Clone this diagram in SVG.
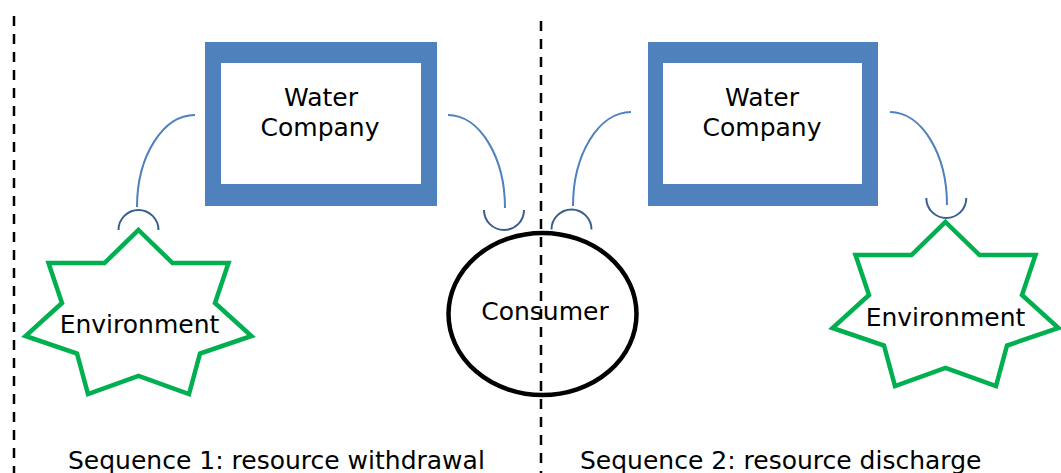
<svg xmlns="http://www.w3.org/2000/svg" width="1061" height="473" viewBox="0 0 1061 473">
<style>
text{font-family:"DejaVu Sans","Verdana",sans-serif;font-size:25px;fill:#000}
.c{text-anchor:middle}
.box{fill:#4F81BD}
.inner{fill:#fff}
.star{fill:#fff;stroke:#00B050;stroke-width:4.5;stroke-linejoin:miter}
.link{fill:none;stroke:#4F81BD;stroke-width:2}
.sock{fill:none;stroke:#3A5F8E;stroke-width:2}
.div{stroke:#000;stroke-width:2.5;stroke-dasharray:10 8}
</style>
<defs>
<polygon id="starShape" points="138.5,230 172.5,263 228.5,263 215,303 251.5,336 200,353.5 189,394 138.5,376 88,394 77,353.5 25.5,336 62,303 48.5,263 104.5,263"/>
</defs>
<rect width="1061" height="473" fill="#fff"/>
<g id="connectors">
<path class="link" d="M195,115 C163,115 137,156 137,207"/>
<path class="sock" d="M118.5,230 A20,20 0 0 1 158.5,230"/>
<path class="link" d="M448,115 C479.5,115 505,157 505,208"/>
<path class="sock" d="M484,210 A20,20 0 0 0 524,210"/>
<path class="link" d="M631,112 C599,112 573,154 573,206"/>
<path class="sock" d="M551.5,229.5 A20,20 0 0 1 591.5,229.5"/>
<path class="link" d="M890,112 C921.5,112 947,154 947,205"/>
<path class="sock" d="M926.3,198 A20,20 0 0 0 966.3,198"/>
</g>
<g id="water-company-1">
<rect class="box" x="205" y="42" width="232" height="164"/>
<rect class="inner" x="221" y="63" width="200" height="121"/>
<text class="c" x="321" y="106">Water</text>
<text class="c" x="320" y="136">Company</text>
</g>
<g id="water-company-2">
<rect class="box" x="648" y="42" width="230" height="164"/>
<rect class="inner" x="663" y="63" width="199" height="121"/>
<text class="c" x="762" y="106">Water</text>
<text class="c" x="762" y="136">Company</text>
</g>
<g id="environment-1">
<use href="#starShape" class="star"/>
<text class="c" x="139.5" y="333">Environment</text>
</g>
<g id="environment-2">
<use href="#starShape" class="star" transform="translate(807,-8)"/>
<text class="c" x="945.5" y="326">Environment</text>
</g>
<g id="consumer">
<ellipse cx="542.5" cy="314" rx="94" ry="81" fill="#fff" stroke="#000" stroke-width="4.5"/>
<text class="c" x="545" y="320">Consumer</text>
</g>
<g id="dividers">
<line class="div" x1="14" y1="16" x2="14" y2="473"/>
<line class="div" x1="541" y1="21" x2="541" y2="473"/>
</g>
<g id="captions">
<text x="68" y="469">Sequence 1: resource withdrawal</text>
<text x="580" y="469">Sequence 2: resource discharge</text>
</g>
</svg>
